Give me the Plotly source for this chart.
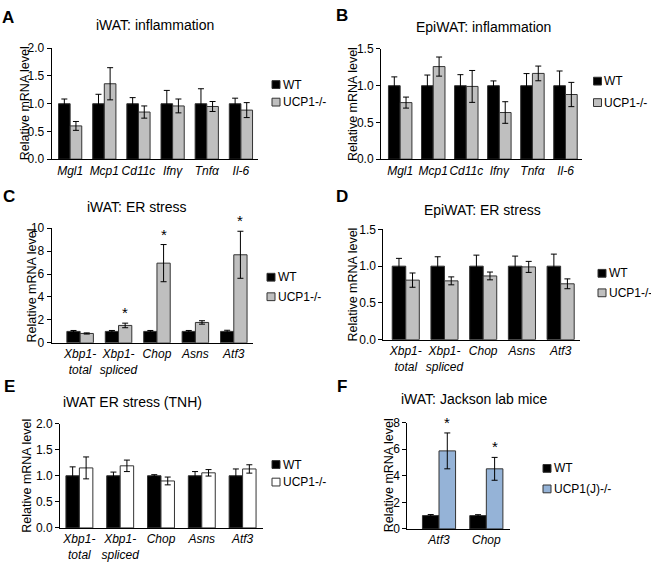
import plotly.graph_objects as go

W, H = 651, 572
FONT = "Liberation Sans, Arial, sans-serif"

# ---------------- data ----------------
# A: iWAT inflammation
a_genes = ["Mgl1", "Mcp1", "Cd11c", "Ifnγ", "Tnfα", "Il-6"]
a_wt = [1.0, 1.0, 1.0, 1.0, 1.0, 1.0]
a_wt_err = [0.085, 0.17, 0.11, 0.24, 0.27, 0.10]
a_ko = [0.60, 1.36, 0.85, 0.96, 0.95, 0.885]
a_ko_err = [0.08, 0.29, 0.11, 0.125, 0.09, 0.135]

# B: EpiWAT inflammation
b_genes = ["Mgl1", "Mcp1", "Cd11c", "Ifnγ", "Tnfα", "Il-6"]
b_wt = [1.0, 1.0, 1.0, 1.0, 1.0, 1.0]
b_wt_err = [0.12, 0.145, 0.15, 0.065, 0.165, 0.20]
b_ko = [0.77, 1.26, 0.99, 0.635, 1.167, 0.88]
b_ko_err = [0.075, 0.13, 0.217, 0.147, 0.10, 0.165]

# C: iWAT ER stress
c_genes = ["Xbp1-total", "Xbp1-spliced", "Chop", "Asns", "Atf3"]
c_wt = [1.0, 1.0, 1.0, 1.0, 1.0]
c_wt_err = [0.08, 0.08, 0.08, 0.08, 0.10]
c_ko = [0.82, 1.52, 6.95, 1.78, 7.68]
c_ko_err = [0.05, 0.2, 1.62, 0.15, 2.05]
c_sig = ["Xbp1-spliced", "Chop", "Atf3"]

# D: EpiWAT ER stress
d_genes = ["Xbp1-total", "Xbp1-spliced", "Chop", "Asns", "Atf3"]
d_wt = [1.0, 1.0, 1.0, 1.0, 1.0]
d_wt_err = [0.106, 0.128, 0.15, 0.137, 0.164]
d_ko = [0.81, 0.80, 0.867, 0.99, 0.76]
d_ko_err = [0.097, 0.054, 0.053, 0.075, 0.067]

# E: iWAT ER stress (TNH)
e_genes = ["Xbp1-total", "Xbp1-spliced", "Chop", "Asns", "Atf3"]
e_wt = [1.0, 1.0, 1.0, 1.0, 1.0]
e_wt_err = [0.17, 0.07, 0.02, 0.08, 0.13]
e_ko = [1.15, 1.19, 0.90, 1.056, 1.13]
e_ko_err = [0.21, 0.11, 0.075, 0.062, 0.08]

# F: iWAT Jackson lab mice
f_genes = ["Atf3", "Chop"]
f_wt = [1.0, 1.0]
f_wt_err = [0.08, 0.07]
f_ko = [5.87, 4.52]
f_ko_err = [1.35, 0.86]
f_sig = ["Atf3", "Chop"]

# y ticks per panel
a_yticks = [0, 0.5, 1.0, 1.5, 2.0]
b_yticks = [0, 0.5, 1.0, 1.5]
c_yticks = [0, 2, 4, 6, 8, 10]
d_yticks = [0, 0.5, 1.0, 1.5]
e_yticks = [0, 0.5, 1.0, 1.5, 2.0]
f_yticks = [0, 2, 4, 6, 8]

# ---------------- layout / style config ----------------
GRAY = "#bfbfbf"
BLUE = "#95b3d7"
EDGE = "#333333"

panels = [
    dict(letter="A", title="iWAT: inflammation", genes=a_genes, wt=a_wt, wte=a_wt_err,
         ko=a_ko, koe=a_ko_err, sig=[], yt=a_yticks, dec=1, ko_color=GRAY,
         ko_name="UCP1-/-", px=(51.7, 258), py=(42.3, 156), xl=-0.54, bw=0.34,
         title_xy=(155, 18), ylab_x=24.5, letter_xy=(8, 11), leg=(272, 79.5, 97.5)),
    dict(letter="B", title="EpiWAT: inflammation", genes=b_genes, wt=b_wt, wte=b_wt_err,
         ko=b_ko, koe=b_ko_err, sig=[], yt=b_yticks, dec=1, ko_color=GRAY,
         ko_name="UCP1-/-", px=(381, 582), py=(43, 156), xl=-0.58, bw=0.355,
         title_xy=(483, 20), ylab_x=353, letter_xy=(342, 9), leg=(593.5, 76, 98)),
    dict(letter="C", title="iWAT: ER stress", genes=c_genes, wt=c_wt, wte=c_wt_err,
         ko=c_ko, koe=c_ko_err, sig=c_sig, yt=c_yticks, dec=0, ko_color=GRAY,
         ko_name="UCP1-/-", px=(51.7, 253), py=(226.7, 344.3), xl=-0.74, bw=0.345,
         title_xy=(137, 205), ylab_x=32, letter_xy=(9, 194), leg=(267, 277, 297)),
    dict(letter="D", title="EpiWAT: ER stress", genes=d_genes, wt=d_wt, wte=d_wt_err,
         ko=d_ko, koe=d_ko_err, sig=[], yt=d_yticks, dec=1, ko_color=GRAY,
         ko_name="UCP1-/-", px=(383.3, 580), py=(228, 341), xl=-0.58, bw=0.35,
         title_xy=(482, 208), ylab_x=353, letter_xy=(342, 194), leg=(598, 273, 293)),
    dict(letter="E", title="iWAT ER stress (TNH)", genes=e_genes, wt=e_wt, wte=e_wt_err,
         ko=e_ko, koe=e_ko_err, sig=[], yt=e_yticks, dec=1, ko_color="#ffffff",
         ko_name="UCP1-/-", px=(60, 263), py=(427, 534), xl=-0.475, bw=0.33,
         title_xy=(132, 405), ylab_x=27, letter_xy=(9, 389), leg=(272, 469, 487)),
    dict(letter="F", title="iWAT: Jackson lab mice", genes=f_genes, wt=f_wt, wte=f_wt_err,
         ko=f_ko, koe=f_ko_err, sig=f_sig, yt=f_yticks, dec=0, ko_color=BLUE,
         ko_name="UCP1(J)-/-", px=(407.3, 510), py=(426, 535), xl=-0.67, bw=0.35,
         title_xy=(474, 402), ylab_x=388.5, letter_xy=(342, 389), leg=(543, 473, 494)),
]


def fx(p):
    return p / W


def fy(p):
    return 1 - p / H


def italic_label(g):
    if "-" in g and g.startswith("Xbp1"):
        a, b = g.split("-", 1)
        return f"<i>{a}-</i><br><i>{b}</i>"
    return f"<i>{g}</i>"


fig = go.Figure()
annotations = []
shapes = []
layout = dict(
    width=W, height=H, autosize=False,
    margin=dict(l=0, r=0, t=0, b=0),
    paper_bgcolor="white", plot_bgcolor="white",
    barmode="overlay", showlegend=False,
    font=dict(family=FONT, size=12, color="black"),
)

for i, p in enumerate(panels):
    k = "" if i == 0 else str(i + 1)
    xa, ya = "x" + k, "y" + k
    n = len(p["genes"])
    w = p["bw"]
    fig.add_trace(go.Bar(
        x=p["genes"], y=p["wt"], width=w, offset=-w, xaxis=xa, yaxis=ya,
        marker=dict(color="black", line=dict(color=EDGE, width=1)),
        error_y=dict(type="data", array=p["wte"], color="black", thickness=1, width=3),
        name="WT", hoverinfo="x+y"))
    fig.add_trace(go.Bar(
        x=p["genes"], y=p["ko"], width=w, offset=0, xaxis=xa, yaxis=ya,
        marker=dict(color=p["ko_color"], line=dict(color=EDGE, width=1)),
        error_y=dict(type="data", array=p["koe"], color="black", thickness=1, width=3),
        name=p["ko_name"], hoverinfo="x+y"))

    layout["xaxis" + k] = dict(
        domain=[fx(p["px"][0]), fx(p["px"][1])], anchor=ya,
        type="category", range=[p["xl"], n - 0.5],
        tickvals=p["genes"], ticktext=[italic_label(g) for g in p["genes"]],
        tickangle=0,
        showline=True, linecolor="black", linewidth=1, ticks="",
        showgrid=False, zeroline=False, tickfont=dict(size=12),
        fixedrange=True)
    layout["yaxis" + k] = dict(
        domain=[fy(p["py"][1]), fy(p["py"][0])], anchor=xa,
        range=[0, p["yt"][-1]], tickmode="array", tickvals=p["yt"],
        ticktext=[f"{v:.{p['dec']}f}" for v in p["yt"]],
        showline=True, linecolor="black", linewidth=1,
        ticks="outside", ticklen=4, tickcolor="black",
        showgrid=False, zeroline=False, tickfont=dict(size=12),
        fixedrange=True)

    # title
    tx, ty = p["title_xy"]
    annotations.append(dict(text=p["title"], x=fx(tx), y=fy(ty), xref="paper", yref="paper",
                            xanchor="center", yanchor="middle", showarrow=False,
                            font=dict(size=14)))
    # panel letter
    lx, ly = p["letter_xy"]
    annotations.append(dict(text="<b>" + p["letter"] + "</b>", x=fx(lx), y=fy(ly),
                            xref="paper", yref="paper", xanchor="center", yanchor="middle",
                            showarrow=False, font=dict(size=17)))
    # y-axis title
    annotations.append(dict(text="Relative mRNA level", x=fx(p["ylab_x"]),
                            y=fy((p["py"][0] + p["py"][1]) / 2), xref="paper", yref="paper",
                            xanchor="center", yanchor="middle", textangle=-90,
                            showarrow=False, font=dict(size=12.5)))
    # significance stars
    for g in p["sig"]:
        j = p["genes"].index(g)
        annotations.append(dict(text="*", x=j + w / 2, y=p["ko"][j] + p["koe"][j],
                                xref=xa, yref=ya, xanchor="center", yanchor="bottom",
                                yshift=0, showarrow=False, font=dict(size=15)))
    # legend (manual)
    lgx, y1, y2 = p["leg"]
    for yy, col, name in [(y1, "black", "WT"), (y2, p["ko_color"], p["ko_name"])]:
        shapes.append(dict(type="rect", xref="paper", yref="paper",
                           x0=fx(lgx), x1=fx(lgx + 8), y0=fy(yy + 4), y1=fy(yy - 4),
                           fillcolor=col, line=dict(color=EDGE, width=1)))
        annotations.append(dict(text=name, x=fx(lgx + 8.5), y=fy(yy), xref="paper",
                                yref="paper", xanchor="left", yanchor="middle",
                                showarrow=False, font=dict(size=12)))

layout["annotations"] = annotations
layout["shapes"] = shapes
fig.update_layout(**layout)
fig.write_html(
    "out.html",
    config={"displayModeBar": False, "staticPlot": True},
    post_script="document.body.style.margin='0';document.documentElement.style.overflow='hidden';",
)
